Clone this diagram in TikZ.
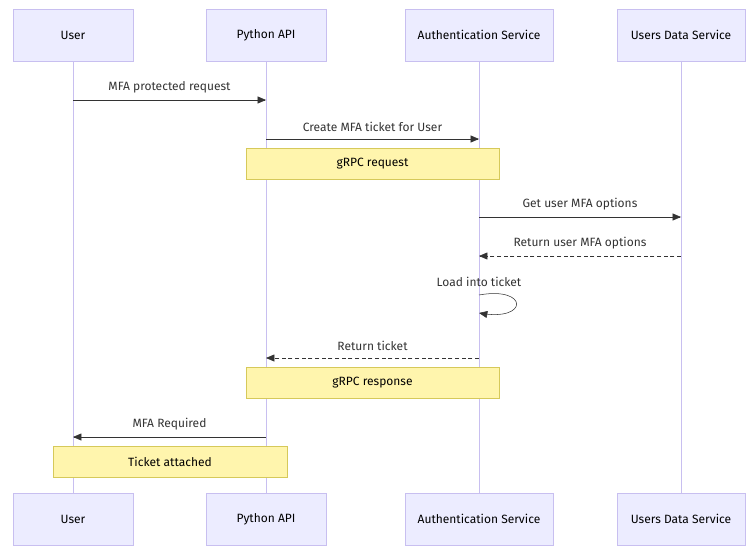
\documentclass[tikz,border=0pt]{standalone}
\usepackage{fontspec}
\setmainfont{Fira Sans}
\usetikzlibrary{arrows,positioning,shapes}
\definecolor{actorfill}{HTML}{ECECFF}
\definecolor{actorline}{HTML}{C8BFF0}
\definecolor{notefill}{HTML}{FFF5AD}
\definecolor{noteline}{HTML}{D6C95A}
\definecolor{msg}{HTML}{333333}
\begin{document}
\begin{tikzpicture}[x=0.75pt,y=-0.75pt,>=triangle 45,font=\fontsize{9}{11}\selectfont]
\tikzstyle{actor}=[draw=actorline,fill=actorfill,minimum width=90pt,minimum height=39pt,inner sep=0pt,text=black]
\tikzstyle{note}=[draw=noteline,fill=notefill,minimum height=23.25pt,inner sep=0pt,text=black]
\tikzstyle{life}=[draw=actorline,thin]
\tikzstyle{call}=[->,draw=msg,thin]
\tikzstyle{reply}=[->,draw=msg,thin,densely dashed]
\tikzstyle{lbl}=[above=2pt,text=msg]

\useasboundingbox (0,0) rectangle (753,556);

% actors
\node[actor] (U)  at (73,35)  {User};
\node[actor] (P)  at (266,35) {Python API};
\node[actor,minimum width=111pt] (A)  at (479,35) {Authentication Service};
\node[actor,minimum width=96pt] (D)  at (681,35) {Users Data Service};
\node[actor] (U2) at (73,519)  {User};
\node[actor] (P2) at (266,519) {Python API};
\node[actor,minimum width=111pt] (A2) at (479,519) {Authentication Service};
\node[actor,minimum width=96pt] (D2) at (681,519) {Users Data Service};

% lifelines
\path[life] (U) -- (U2) (P) -- (P2) (A) -- (A2) (D) -- (D2);

% message points
\coordinate (u1) at (73,100);  \coordinate (p1) at (266,100);
\coordinate (p2) at (266,139); \coordinate (a2) at (479,139);
\coordinate (a3) at (479,217); \coordinate (d3) at (681,217);
\coordinate (d4) at (681,256); \coordinate (a4) at (479,256);
\coordinate (a5) at (479,295); \coordinate (a6) at (479,313);
\coordinate (a7) at (479,358); \coordinate (p7) at (266,358);
\coordinate (p8) at (266,437); \coordinate (u8) at (73,437);

\draw[call]  (u1) -- node[lbl] {MFA protected request} (p1);
\draw[call]  (p2) -- node[lbl] {Create MFA ticket for User} (a2);
\node[note,minimum width=189.75pt] (N1) at (372.5,163.5) {gRPC request};
\draw[call]  (a3) -- node[lbl] {Get user MFA options} (d3);
\draw[reply] (d4) -- node[lbl] {Return user MFA options} (a4);
\draw[call]  (a5) .. controls (529,286) and (529,322) .. (a6);
\node[text=msg] (L5) at (479,282) {Load into ticket};
\draw[reply] (a7) -- node[lbl] {Return ticket} (p7);
\node[note,minimum width=189.75pt] (N2) at (372.5,382.5) {gRPC response};
\draw[call]  (p8) -- node[lbl] {MFA Required} (u8);
\node[note,minimum width=175.5pt] (N3) at (170,461.5) {Ticket attached};
\end{tikzpicture}
\end{document}
